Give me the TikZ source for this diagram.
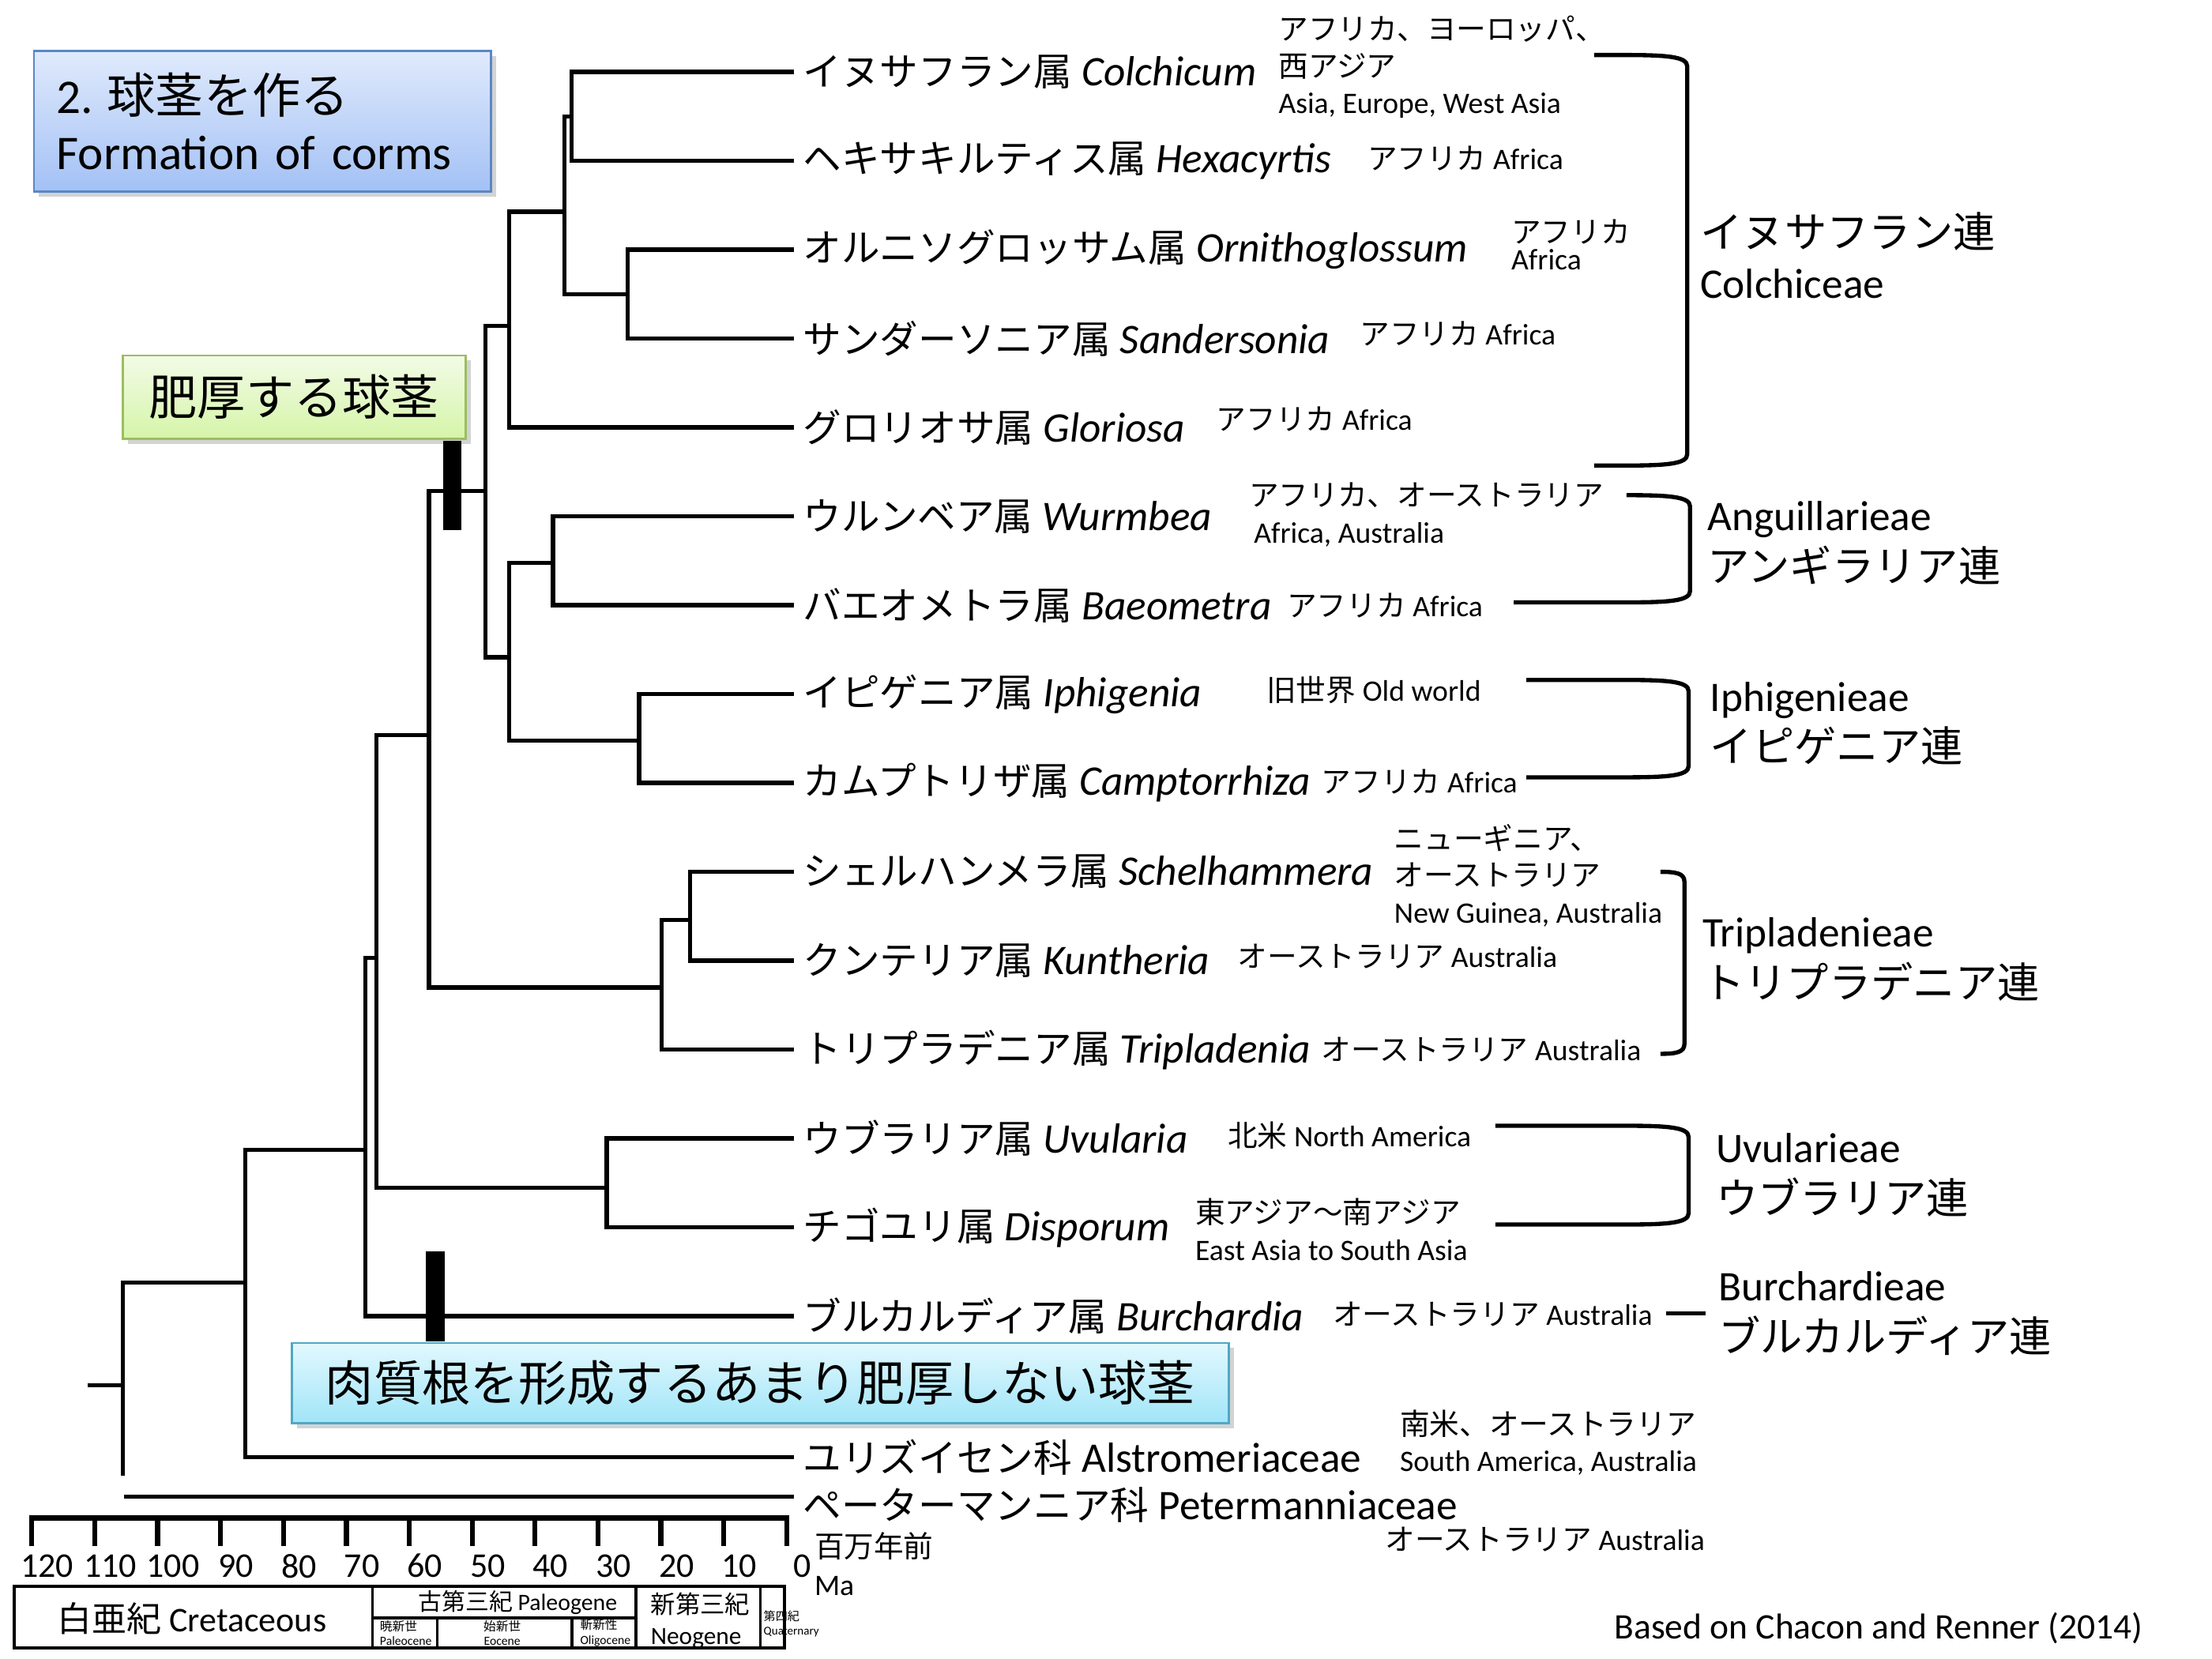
\documentclass[tikz,border=0pt]{standalone}
\usepackage{fontspec}
\setmainfont{Carlito}
\newfontfamily\jp{Noto Sans CJK JP}
\newfontfamily\jpleaf{Noto Sans CJK JP}[Scale=0.912]
\usetikzlibrary{shadows}

\definecolor{titleTop}{RGB}{224,234,252}
\definecolor{titleBot}{RGB}{163,193,245}
\definecolor{titleLine}{RGB}{91,135,196}
\definecolor{cormTop}{RGB}{243,251,231}
\definecolor{cormBot}{RGB}{213,245,168}
\definecolor{cormLine}{RGB}{155,190,95}
\definecolor{rootTop}{RGB}{226,248,254}
\definecolor{rootBot}{RGB}{160,229,248}
\definecolor{rootLine}{RGB}{80,168,196}

\tikzset{
  treeline/.style={line width=1.7pt},
  traitbar/.style={fill=black},
  leaflabel/.style={anchor=west, inner xsep=0.12cm, inner ysep=0pt, font=\fontsize{17}{19}\selectfont},
  distlabel/.style={anchor=west, inner sep=0pt, align=left, font=\fontsize{12}{14.8}\selectfont},
  tribelabel/.style={anchor=west, inner sep=0pt, align=left, font=\fontsize{17}{20.5}\selectfont},
  tribebrace/.style={line width=1.7pt},
  labelbox/.style={draw, line width=0.9pt, inner sep=0pt,
    drop shadow={shadow xshift=0.07cm, shadow yshift=-0.07cm, opacity=0.35},
    font=\fontsize{19.5}{22.8}\selectfont},
  axistick/.style={line width=2pt},
  periodline/.style={line width=1.2pt},
  agelabel/.style={inner sep=0pt, font=\fontsize{14}{16}\selectfont},
  epochlabel/.style={inner sep=0pt, align=left, font=\fontsize{5}{6}\selectfont}
}

\begin{document}
\begin{tikzpicture}[x=0.02cm, y=-0.02cm]
\useasboundingbox (0,0) rectangle (1568,1176);

% boxes
\node[labelbox, draw=titleLine, top color=titleTop, bottom color=titleBot,
      minimum width=6.48cm, minimum height=2cm, text width=5.84cm,
      inner xsep=0.32cm, align=left] (title) at (186,86)
  {2.\hspace{0.2cm}{\jp 球茎を作る}\\Formation of corms};
\node[labelbox, draw=cormLine, top color=cormTop, bottom color=cormBot,
      minimum width=4.86cm, minimum height=1.18cm] (thickcorm) at (208.5,281.5)
  {{\jp 肥厚する球茎}};
\node[labelbox, draw=rootLine, top color=rootTop, bottom color=rootBot,
      minimum width=13.28cm, minimum height=1.14cm] (fleshyroot) at (539,980.5)
  {{\jp 肉質根を形成するあまり肥厚しない球茎}};

% leaves
\node[leaflabel] (L1) at (563,51) {{\jpleaf イヌサフラン属} \textit{Colchicum}};
\node[leaflabel] (L2) at (563,114) {{\jpleaf ヘキサキルティス属} \textit{Hexacyrtis}};
\node[leaflabel] (L3) at (563,177) {{\jpleaf オルニソグロッサム属} \textit{Ornithoglossum}};
\node[leaflabel] (L4) at (563,240) {{\jpleaf サンダーソニア属} \textit{Sandersonia}};
\node[leaflabel] (L5) at (563,303) {{\jpleaf グロリオサ属} \textit{Gloriosa}};
\node[leaflabel] (L6) at (563,366) {{\jpleaf ウルンベア属} \textit{Wurmbea}};
\node[leaflabel] (L7) at (563,429) {{\jpleaf バエオメトラ属} \textit{Baeometra}};
\node[leaflabel] (L8) at (563,492) {{\jpleaf イピゲニア属} \textit{Iphigenia}};
\node[leaflabel] (L9) at (563,555) {{\jpleaf カムプトリザ属} \textit{Camptorrhiza}};
\node[leaflabel] (L10) at (563,618) {{\jpleaf シェルハンメラ属} \textit{Schelhammera}};
\node[leaflabel] (L11) at (563,681) {{\jpleaf クンテリア属} \textit{Kuntheria}};
\node[leaflabel] (L12) at (563,744) {{\jpleaf トリプラデニア属} \textit{Tripladenia}};
\node[leaflabel] (L13) at (563,807) {{\jpleaf ウブラリア属} \textit{Uvularia}};
\node[leaflabel] (L14) at (563,870) {{\jpleaf チゴユリ属} \textit{Disporum}};
\node[leaflabel] (L15) at (563,933) {{\jpleaf ブルカルディア属} \textit{Burchardia}};
\node[leaflabel] (L16) at (563,1033) {{\jpleaf ユリズイセン科} Alstromeriaceae};
\node[leaflabel] (L17) at (563,1067) {{\jpleaf ペーターマンニア科} Petermanniaceae};

% inner nodes of the tree
\coordinate (root) at (62,982);
\coordinate (n16) at (87,982);
\coordinate (rootend) at (87,1046);
\coordinate (petstart) at (88,1061);
\coordinate (n15) at (174,909);
\coordinate (n14) at (259,815);
\coordinate (n13) at (267,679);
\coordinate (n12) at (430,842);
\coordinate (n11) at (304,521);
\coordinate (n10) at (469,700);
\coordinate (n9) at (489,652);
\coordinate (n8) at (344,348);
\coordinate (n7) at (361,466);
\coordinate (n6) at (453,525);
\coordinate (n5) at (392,399);
\coordinate (n4) at (361,231);
\coordinate (n3) at (445,208.5);
\coordinate (n2) at (400,150);
\coordinate (n1) at (405,82.5);

\foreach \p/\c in {root/n16, n16/n15, n15/n14, n15/L16.west, n14/n13, n14/L15.west,
                   n13/n11, n13/n12, n12/L13.west, n12/L14.west,
                   n11/n8, n11/n10, n10/n9, n10/L12.west, n9/L10.west, n9/L11.west,
                   n8/n4, n8/n7, n7/n5, n7/n6, n5/L6.west, n5/L7.west, n6/L8.west, n6/L9.west,
                   n4/n2, n4/L5.west, n2/n1, n2/n3, n1/L1.west, n1/L2.west, n3/L3.west, n3/L4.west}
  \draw[treeline] (\p) |- (\c);
\draw[treeline] (n16) -- (rootend);
\draw[treeline] (petstart) -- (L17.west |- petstart);

% trait bars
\fill[traitbar] (314,312.5) rectangle (327,376);
\fill[traitbar] (302,887) rectangle (315,951);

% distributions
\node[distlabel] (d1) at (906,47.7) {{\jp アフリカ、ヨーロッパ、}\\{\jp 西アジア}\\Asia, Europe, West Asia};
\node[distlabel] (d2) at (969,112.5) {{\jp アフリカ} Africa};
\node[distlabel, font=\fontsize{12}{11}\selectfont] (d3) at (1071,173.5) {{\jp アフリカ}\\Africa};
\node[distlabel] (d4) at (963.6,236.8) {{\jp アフリカ} Africa};
\node[distlabel] (d5) at (862,296.8) {{\jp アフリカ} Africa};
\node[distlabel] (d6) at (885,365) {{\jp アフリカ、オーストラリア}\\\,Africa, Australia};
\node[distlabel] (d7) at (912,429) {{\jp アフリカ} Africa};
\node[distlabel] (d8) at (897.5,489) {{\jp 旧世界} Old world};
\node[distlabel] (d9) at (936.5,554) {{\jp アフリカ} Africa};
\node[distlabel] (d10) at (988,620.5) {{\jp ニューギニア、}\\{\jp オーストラリア}\\New Guinea, Australia};
\node[distlabel] (d11) at (877,678) {{\jp オーストラリア} Australia};
\node[distlabel] (d12) at (936.5,743.7) {{\jp オーストラリア} Australia};
\node[distlabel] (d13) at (870,804.6) {{\jp 北米} North America};
\node[distlabel] (d14) at (847,871.5) {{\jp 東アジア〜南アジア}\\East Asia to South Asia};
\node[distlabel] (d15) at (944.5,931.4) {{\jp オーストラリア} Australia};
\node[distlabel] (d16) at (992,1022.7) {{\jp 南米、オーストラリア}\\South America, Australia};
\node[distlabel] (d17) at (981.6,1091) {{\jp オーストラリア} Australia};

% tribes
\node[tribelabel] (tColch) at (1205,181) {{\jp イヌサフラン連}\\Colchiceae};
\node[tribelabel] (tAngu) at (1210,385) {Anguillarieae\\{\jp アンギラリア連}};
\node[tribelabel] (tIphi) at (1212,513) {Iphigenieae\\{\jp イピゲニア連}};
\node[tribelabel] (tTrip) at (1206.5,680) {Tripladenieae\\{\jp トリプラデニア連}};
\node[tribelabel] (tUvul) at (1216,833) {Uvularieae\\{\jp ウブラリア連}};
\node[tribelabel] (tBurc) at (1218,931) {Burchardieae\\{\jp ブルカルディア連}};

\foreach \xt/\xb/\xc/\yt/\yb in {1130/1130/1196/39/330, 1153/1073/1198/351/427,
                                  1082/1082/1197/482/551, 1060/1060/1197/798/868}
  \draw[tribebrace] (\xt,\yt) -- ({\xc-45},\yt) .. controls ({\xc-15},\yt) and (\xc,{\yt+1}) .. (\xc,{\yt+8})
    -- (\xc,{\yb-8}) .. controls (\xc,{\yb-1}) and ({\xc-15},\yb) .. ({\xc-45},\yb) -- (\xb,\yb);
\draw[tribebrace] (1177,618) .. controls (1188,618) and (1194,619) .. (1194,625)
  -- (1194,740) .. controls (1194,746) and (1188,747) .. (1177,747);
\draw[tribebrace] (1181,931) -- (1209,931);

% time axis
\draw[axistick, line cap=rect] (22.5,1076) -- (557.7,1076);
\foreach \k in {0,...,12}{
  \draw[axistick] ({22.5+44.6*\k},1076) -- ({22.5+44.6*\k},1096);
  \pgfmathtruncatemacro{\ma}{120-10*\k}
  \node[agelabel] (age\k) at ({33.5+44.6*\k},1110) {\ma};
}
\node[anchor=west, inner sep=0pt, align=left, font=\fontsize{12}{15.4}\selectfont] (unit) at (577,1108.5)
  {{\jp 百万年前}\\Ma};

% periods
\draw[periodline] (10,1124.6) rectangle (556,1168);
\draw[periodline] (264,1124.6) -- (264,1168);
\draw[periodline] (451,1124.6) -- (451,1168);
\draw[periodline] (539,1124.6) -- (539,1168);
\draw[periodline] (264,1146.7) -- (451,1146.7);
\draw[periodline] (310,1146.7) -- (310,1168);
\draw[periodline] (405.5,1146.7) -- (405.5,1168);
\node[font=\fontsize{14}{16}\selectfont] (cretaceous) at (136,1147) {{\jp 白亜紀} Cretaceous};
\node[inner sep=0pt, font=\fontsize{9.5}{11}\selectfont] (paleogene) at (367,1136) {{\jp 古第三紀} Paleogene};
\node[epochlabel, anchor=west] (paleocene) at (269,1157.5) {{\jp 暁新世}\\Paleocene};
\node[epochlabel, align=center] (eocene) at (356,1157.5) {{\jp 始新世}\\Eocene};
\node[epochlabel, anchor=west] (oligocene) at (411,1157.5) {{\jp 斬新性}\\Oligocene};
\node[anchor=west, inner sep=0pt, align=left, font=\fontsize{10}{12.5}\selectfont] (neogene) at (461,1149)
  {{\jp 新第三紀}\\Neogene};
\node[epochlabel, anchor=west, font=\fontsize{4.8}{6}\selectfont] (quaternary) at (541,1151)
  {{\jp 第四紀}\\Quaternary};

\node[anchor=west, inner sep=0pt, font=\fontsize{14.5}{17}\selectfont] (source) at (1144,1154)
  {Based on Chacon and Renner (2014)};
\end{tikzpicture}
\end{document}
